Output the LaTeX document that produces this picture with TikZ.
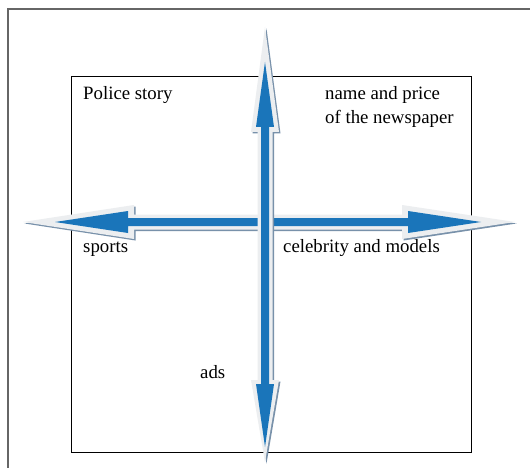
\documentclass[tikz,border=0pt]{standalone}
\usepackage{fontspec}
\setmainfont{Liberation Serif}
\definecolor{arrblue}{RGB}{26,117,186}
\definecolor{arrrim}{RGB}{236,238,240}
\definecolor{arrshade}{RGB}{120,145,170}
% double headed fat arrow along x: style, y, tip, base, base, tip, shaft half, head half
\newcommand{\harrow}[8]{\fill[#1] (#3,#2) -- (#4,#2-#8) -- (#4,#2-#7) -- (#5,#2-#7) -- (#5,#2-#8) -- (#6,#2)
  -- (#5,#2+#8) -- (#5,#2+#7) -- (#4,#2+#7) -- (#4,#2+#8) -- cycle;}
% the same along y: style, x, tip, base, base, tip, shaft half, head half
\newcommand{\varrow}[8]{\fill[#1] (#2,#3) -- (#2-#8,#4) -- (#2-#7,#4) -- (#2-#7,#5) -- (#2-#8,#5) -- (#2,#6)
  -- (#2+#8,#5) -- (#2+#7,#5) -- (#2+#7,#4) -- (#2+#8,#4) -- cycle;}
\tikzset{
  lbl/.style={anchor=base west,inner sep=0pt,font=\fontsize{18.8}{22}\selectfont},
  rim/.style={fill=arrrim},
  shade/.style={fill=arrshade,shift={(1.5,1.5)}},
  core/.style={fill=arrblue}
}
\begin{document}
\begin{tikzpicture}[x=1pt,y=-1pt]
  \useasboundingbox (0,0) rectangle (530,468);
  \clip (0,0) rectangle (530,468);
  \fill[white] (0,0) rectangle (530,468);
  \draw[gray!80!black,line width=1.2pt] (8,9) rectangle (545,480);
  \draw[line width=0.9pt] (71,76) rectangle (471,452);

  \node[lbl](1)at(83,100){Police story};
  \node[lbl](2)at(325,100){name and price};
  \node[lbl](3)at(325,124){of the newspaper};
  \node[lbl](4)at(83,252){sports};
  \node[lbl](5)at(283,252){celebrity and models};
  \node[lbl](6)at(200,378){ads};

  % left - right
  \harrow{shade}{222}{23}{134}{402}{515}{7.5}{17}
  \harrow{rim}{222}{23}{134}{402}{515}{7.5}{17}
  \harrow{core}{222}{55}{128}{408}{481}{4}{11}

  % up - down
  \varrow{shade}{265}{27}{132}{380}{462}{7.5}{14}
  \varrow{rim}{265}{27}{132}{380}{462}{7.5}{14}
  \varrow{core}{265}{62}{127}{384}{447}{4}{9}
\end{tikzpicture}
\end{document}
